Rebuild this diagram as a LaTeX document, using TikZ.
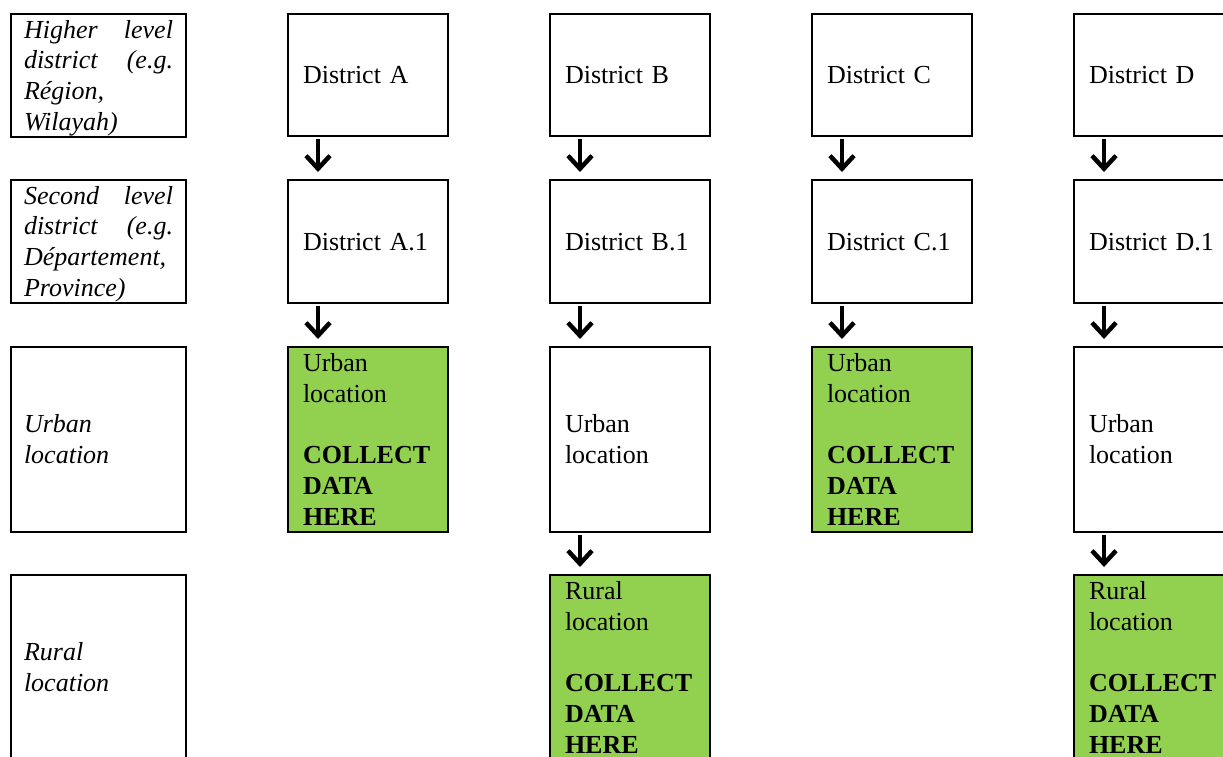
\documentclass[tikz,border=0pt]{standalone}
\usepackage{fontspec}
\setmainfont{Liberation Serif}
\usetikzlibrary{arrows.meta}
\definecolor{cgreen}{HTML}{92D050}
\newcommand\ws{\rule[-6.6pt]{0pt}{30.7pt}}
\begin{document}
\begin{tikzpicture}[x=1pt,y=-1pt,
  cell/.style={draw=black, line width=2pt, inner xsep=15pt, inner ysep=0pt, outer sep=0pt,
    text width=130pt, align=left, minimum width=160pt, anchor=north west,
    font=\fontsize{26}{30.7}\selectfont},
  lab/.style={cell, inner xsep=13pt, text width=149pt, minimum width=175pt,
    font=\fontsize{26}{30.7}\selectfont\itshape},
  collect/.style={fill=cgreen},
  rowa/.style={minimum height=122pt},
  rowb/.style={minimum height=123pt},
  rowc/.style={minimum height=185pt},
  rowd/.style={minimum height=185pt},
  down/.style={line width=4.5pt, -{Straight Barb[length=13pt,width=24pt,line cap=butt,line join=miter]}}
]
\useasboundingbox (0,0) rectangle (1223,757);
\clip (0,0) rectangle (1223,757);

% left labels
\node[lab,rowa] (L1) at (11,14) {\ws Higher\hfill level\\\ws district\hfill (e.g.\\\ws Région,\\\ws Wilayah)};
\node[lab,rowb] (L2) at (11,180) {\ws Second\hfill level\\\ws district\hfill (e.g.\\\ws Département,\\\ws Province)};
\node[lab,rowc] (L3) at (11,347) {\ws Urban\\\ws location};
\node[lab,rowd] (L4) at (11,575) {\ws Rural\\\ws location};

% row 1
\node[cell,rowa] (A1) at (288,14) {\ws District A};
\node[cell,rowa] (B1) at (550,14) {\ws District B};
\node[cell,rowa] (C1) at (812,14) {\ws District C};
\node[cell,rowa] (D1) at (1074,14) {\ws District D};

% row 2
\node[cell,rowb] (A2) at (288,180) {\ws District A.1};
\node[cell,rowb] (B2) at (550,180) {\ws District B.1};
\node[cell,rowb] (C2) at (812,180) {\ws District C.1};
\node[cell,rowb] (D2) at (1074,180) {\ws District D.1};

% row 3
\node[cell,rowc,collect] (A3) at (288,347) {\ws Urban\\\ws location\\\ws\\\ws\textbf{COLLECT}\\\ws\textbf{DATA}\\\ws\textbf{HERE}};
\node[cell,rowc] (B3) at (550,347) {\ws Urban\\\ws location};
\node[cell,rowc,collect] (C3) at (812,347) {\ws Urban\\\ws location\\\ws\\\ws\textbf{COLLECT}\\\ws\textbf{DATA}\\\ws\textbf{HERE}};
\node[cell,rowc] (D3) at (1074,347) {\ws Urban\\\ws location};

% row 4
\node[cell,rowd,collect] (B4) at (550,575) {\ws Rural\\\ws location\\\ws\\\ws\textbf{COLLECT}\\\ws\textbf{DATA}\\\ws\textbf{HERE}};
\node[cell,rowd,collect] (D4) at (1074,575) {\ws Rural\\\ws location\\\ws\\\ws\textbf{COLLECT}\\\ws\textbf{DATA}\\\ws\textbf{HERE}};

% arrows
\foreach \c in {A,B,C,D} {
  \draw[down] ([xshift=30pt,yshift=-3pt]\c1.south west) -- ([xshift=30pt,yshift=8pt]\c2.north west);
  \draw[down] ([xshift=30pt,yshift=-3pt]\c2.south west) -- ([xshift=30pt,yshift=8pt]\c3.north west);
}
\foreach \c in {B,D} {
  \draw[down] ([xshift=30pt,yshift=-3pt]\c3.south west) -- ([xshift=30pt,yshift=8pt]\c4.north west);
}
\end{tikzpicture}
\end{document}
